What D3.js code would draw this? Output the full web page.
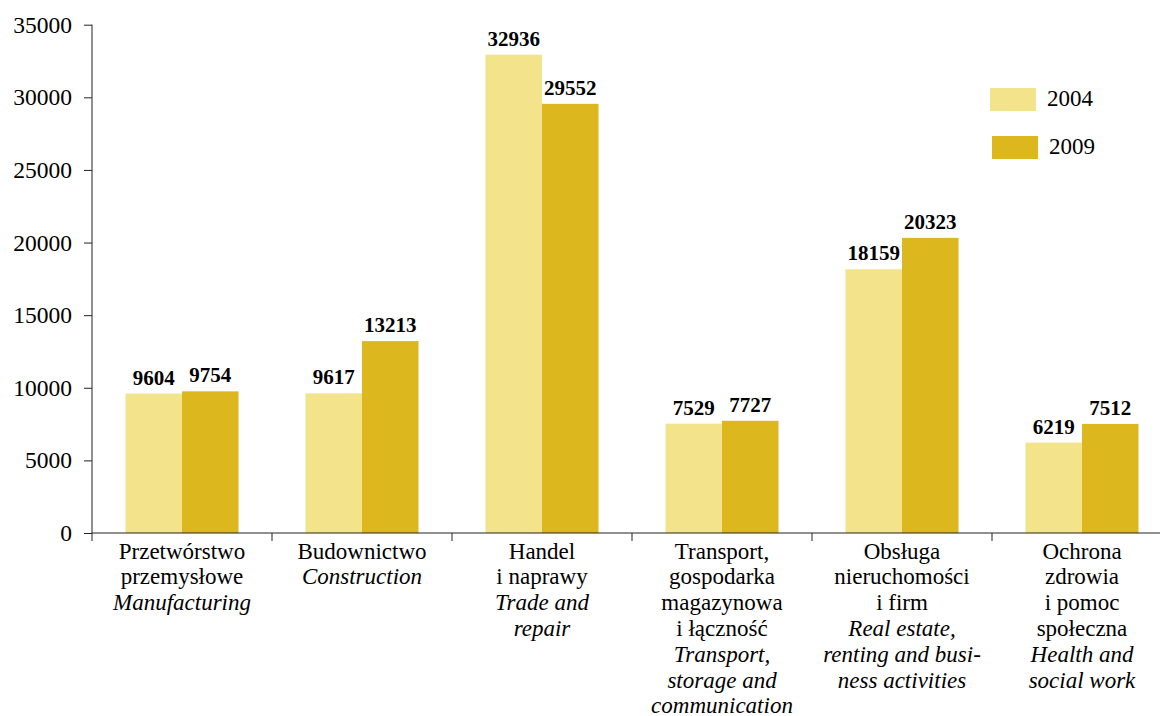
<!DOCTYPE html>
<html>
<head>
<meta charset="utf-8">
<script src="https://cdn.jsdelivr.net/npm/d3@7"></script>
<style>
  body { margin: 0; background: #fff; }
  svg, svg text { font-family: "Liberation Serif", "Times New Roman", Times, "DejaVu Serif", serif !important; }
</style>
</head>
<body>
<svg id="viz"></svg>
<script>
// categories: Polish lines, then English (italic) lines
var categoriesPl = [
    ['Przetwórstwo', 'przemysłowe'],
    ['Budownictwo'],
    ['Handel', 'i naprawy'],
    ['Transport,', 'gospodarka', 'magazynowa', 'i łączność'],
    ['Obsługa', 'nieruchomości', 'i firm'],
    ['Ochrona', 'zdrowia', 'i pomoc', 'społeczna']
];
var categoriesEn = [
    ['Manufacturing'],
    ['Construction'],
    ['Trade and', 'repair'],
    ['Transport,', 'storage and', 'communication'],
    ['Real estate,', 'renting and busi-', 'ness activities'],
    ['Health and', 'social work']
];
var series = ['2004', '2009'];
var values2004 = [9604, 9617, 32936, 7529, 18159, 6219];
var values2009 = [9754, 13213, 29552, 7727, 20323, 7512];
var yTicks = [0, 5000, 10000, 15000, 20000, 25000, 30000, 35000];
var colors = ['#f3e38a', '#ddb71e'];

var serif = '"Liberation Serif", "Times New Roman", Times, "DejaVu Serif", serif';

var width = 1160;
var height = 716;

var svg = d3.select('#viz')
            .attr('width', width)
            .attr('height', height);

var x0 = d3.scaleBand()
           .domain(d3.range(categoriesPl.length))
           .range([92, 1172])
           .paddingInner(0.372)
           .paddingOuter(0.186);

var x1 = d3.scaleBand()
           .domain(series)
           .range([0, x0.bandwidth()]);

var y = d3.scaleLinear()
          .domain([0, 35000])
          .range([533, 24.7]);

var rows = categoriesPl.map(function(c, i) {
    return {i: i, vals: [values2004[i], values2009[i]]};
});

// bars
var groups = svg.selectAll('g.grp')
    .data(rows)
    .enter().append('g')
    .attr('class', 'grp')
    .attr('transform', function(d) { return 'translate(' + x0(d.i) + ',0)'; });

groups.selectAll('rect')
    .data(function(d) { return d.vals.map(function(v, k) { return {s: series[k], v: v, k: k}; }); })
    .enter().append('rect')
    .attr('x', function(d) { return x1(d.s); })
    .attr('y', function(d) { return y(d.v); })
    .attr('width', x1.bandwidth())
    .attr('height', function(d) { return y(0) - y(d.v); })
    .attr('fill', function(d) { return colors[d.k]; });

groups.selectAll('text')
    .data(function(d) { return d.vals.map(function(v, k) { return {s: series[k], v: v}; }); })
    .enter().append('text')
    .attr('x', function(d) { return x1(d.s) + x1.bandwidth() / 2; })
    .attr('y', function(d) { return y(d.v) - 9; })
    .attr('text-anchor', 'middle')
    .style('font-family', serif)
    .style('font-size', '21px')
    .style('font-weight', 'bold')
    .text(function(d) { return d.v; });

// y axis
var yAxis = d3.axisLeft(y)
              .tickValues(yTicks)
              .tickSize(8)
              .tickPadding(12)
              .tickFormat(d3.format('d'));

var gy = svg.append('g')
    .attr('transform', 'translate(92,0)')
    .call(yAxis)
    .attr('font-family', null)
    .attr('font-size', null);
gy.select('.domain').attr('stroke', '#222').attr('d', 'M0,' + y(35000) + 'V' + y(0));
gy.selectAll('line').attr('stroke', '#222');
gy.selectAll('text')
  .style('font-family', serif)
  .style('font-size', '23.5px')
  .attr('fill', '#000');

// x axis line and category separators
svg.append('line')
   .attr('x1', 92).attr('x2', width)
   .attr('y1', y(0)).attr('y2', y(0))
   .attr('stroke', '#222');

var seps = d3.range(categoriesPl.length).map(function(i) { return x0(i) - x0.step() * 0.186; });
svg.selectAll('line.sep')
   .data(seps)
   .enter().append('line')
   .attr('class', 'sep')
   .attr('x1', function(d) { return d; }).attr('x2', function(d) { return d; })
   .attr('y1', y(0)).attr('y2', y(0) + 8)
   .attr('stroke', '#222');

// category labels
var lineH = 25.8;
var labels = svg.selectAll('text.cat')
    .data(rows)
    .enter().append('text')
    .attr('class', 'cat')
    .attr('text-anchor', 'middle')
    .style('font-family', serif)
    .style('font-size', '23px')
    .attr('fill', '#000');

labels.each(function(d) {
    var t = d3.select(this);
    var cx = x0(d.i) + x0.bandwidth() / 2;
    var lines = categoriesPl[d.i].map(function(s) { return {s: s, it: false}; })
        .concat(categoriesEn[d.i].map(function(s) { return {s: s, it: true}; }));
    lines.forEach(function(l, j) {
        t.append('tspan')
         .attr('x', cx)
         .attr('y', 558.5 + j * lineH)
         .style('font-style', l.it ? 'italic' : 'normal')
         .text(l.s);
    });
});

// legend
var legend = svg.selectAll('g.leg')
    .data(series)
    .enter().append('g')
    .attr('class', 'leg')
    .attr('transform', function(d, i) { return 'translate(' + (990 + i * 2) + ',' + (88 + i * 48) + ')'; });

legend.append('rect')
    .attr('width', 46)
    .attr('height', 23)
    .attr('fill', function(d, i) { return colors[i]; });

legend.append('text')
    .attr('x', 57)
    .attr('y', 18)
    .style('font-family', serif)
    .style('font-size', '23px')
    .text(function(d) { return d; });
</script>
</body>
</html>
